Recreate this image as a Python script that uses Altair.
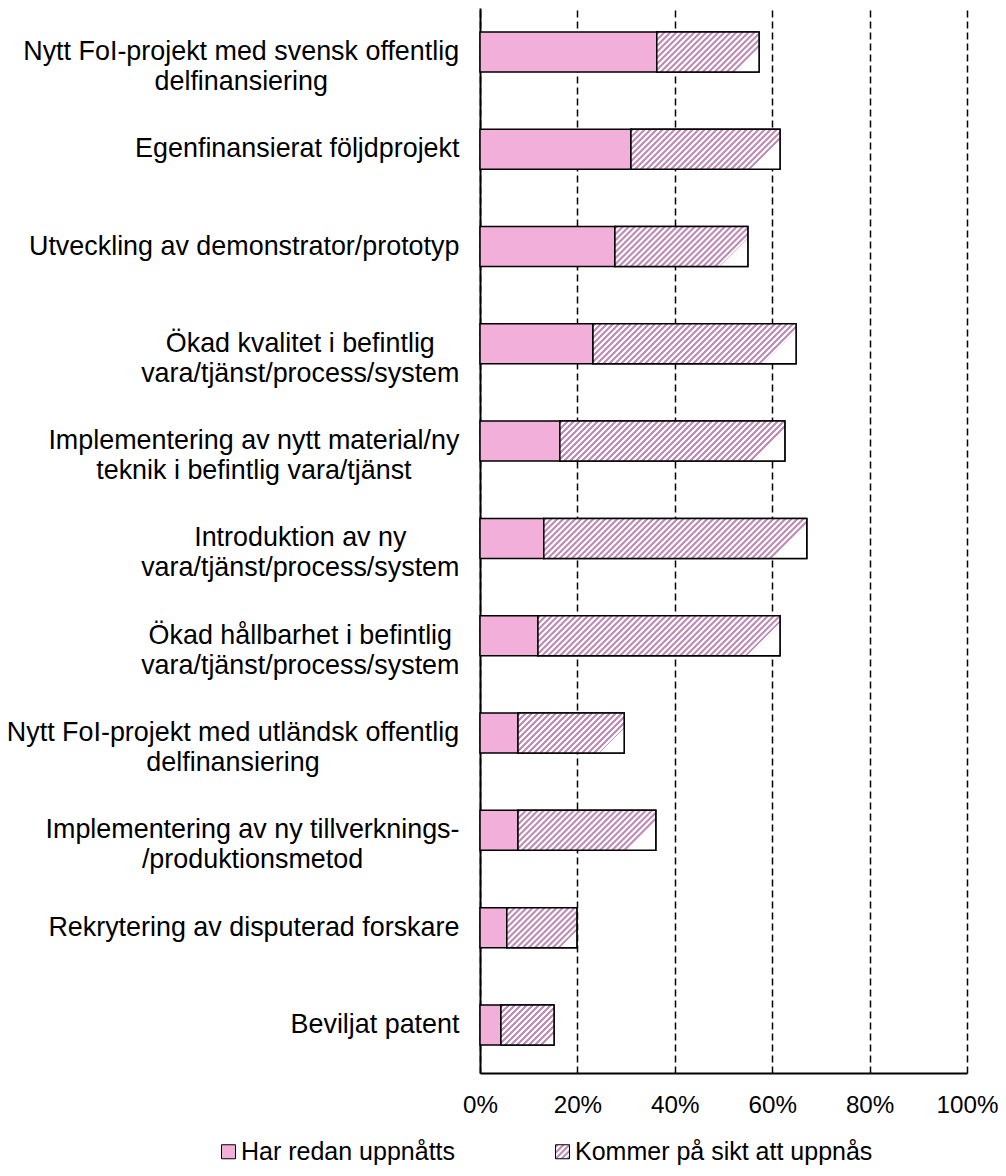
import json
import altair as alt
import pandas as pd

categories = [
    "Nytt FoI-projekt med svensk offentlig|delfinansiering",
    "Egenfinansierat följdprojekt",
    "Utveckling av demonstrator/prototyp",
    "Ökad kvalitet i befintlig|vara/tjänst/process/system",
    "Implementering av nytt material/ny|teknik i befintlig vara/tjänst",
    "Introduktion av ny|vara/tjänst/process/system",
    "Ökad hållbarhet i befintlig|vara/tjänst/process/system",
    "Nytt FoI-projekt med utländsk offentlig|delfinansiering",
    "Implementering av ny tillverknings-|/produktionsmetod",
    "Rekrytering av disputerad forskare",
    "Beviljat patent",
]
already = [36.3, 31.0, 27.7, 23.2, 16.4, 13.1, 11.9, 7.8, 7.8, 5.5, 4.3]
future = [21.0, 30.6, 27.3, 41.7, 46.2, 54.0, 49.7, 21.8, 28.3, 14.4, 10.9]
series_names = ["Har redan uppnåtts", "Kommer på sikt att uppnås"]
tick_values = [0, 20, 40, 60, 80, 100]

# ---- styling ----
FONT = "Liberation Sans"
PLOT_W, PLOT_H = 487, 1065
PAD_INNER = 0.589
PAD_OUTER = 0.267
BAND_ALIGN = 0.46
PINK = "#F2AFDA"
HATCH = "#BF8AB5"
LABEL_FS = 26.9

# Arial/Liberation Sans advance widths (1/1000 em) for measuring label blocks
CW = {
    "a": 556, "b": 556, "c": 500, "d": 556, "e": 556, "f": 278, "g": 556, "h": 556,
    "i": 222, "j": 222, "k": 500, "l": 222, "m": 833, "n": 556, "o": 556, "p": 556,
    "q": 556, "r": 333, "s": 500, "t": 278, "u": 556, "v": 500, "w": 722, "x": 500,
    "y": 500, "z": 500, "ä": 556, "ö": 556, "å": 556, "N": 722, "F": 611, "I": 278,
    "E": 667, "U": 722, "Ö": 778, "R": 722, "B": 667, " ": 278, "-": 333, "/": 278,
}


def text_w(s, fs):
    return sum(CW.get(ch, 556) for ch in s) * fs / 1000.0


def hatch_gradient(W, H, period=6.0, duty=0.5, ramp=1.1, dark=HATCH, light="#FFFFFF"):
    T = W + H * H / W
    stops = []
    n = int(T / period) + 2
    for i in range(n):
        p0 = i * period
        pts = [
            (p0, light),
            (p0 + ramp, dark),
            (p0 + duty * period, dark),
            (p0 + duty * period + ramp, light),
        ]
        for pos, col in pts:
            stops.append({"offset": round(min(max(pos / T, 0.0), 1.0), 5), "color": col})
    return {"gradient": "linear", "x1": 0, "y1": 0, "x2": 1, "y2": round(H / W, 5), "stops": stops}


rows = []
for c, a, f in zip(categories, already, future):
    rows.append({"cat": c, "series": series_names[0], "x0": 0.0, "x1": a})
    rows.append({"cat": c, "series": series_names[1], "x0": a, "x1": a + f})
df = pd.DataFrame(rows)

# label padding so each multi-line label block is right-aligned, lines centred
conds = []
for c in categories:
    w = max(text_w(line, LABEL_FS) for line in c.split("|"))
    conds.append({"test": "datum.value === " + json.dumps(c), "value": round(21 + w / 2, 1)})

yaxis = alt.Axis(
    title=None, domain=True, domainColor="black", domainWidth=2, ticks=False, tickSize=0,
    grid=False, labelExpr="split(datum.label, '|')", labelFont=FONT, labelFontSize=LABEL_FS,
    labelColor="black", labelAlign="center", labelBaseline="middle", labelLineHeight=30,
    labelLimit=0, labelOverlap=False, labelPadding={"condition": conds, "value": 21},
)
xaxis = alt.Axis(
    title=None, values=tick_values, labelExpr="datum.value + '%'", grid=True, gridColor="black",
    gridDash=[7, 4], gridWidth=1.5, gridOpacity=1, domain=True, domainColor="black", domainWidth=2,
    ticks=False, tickSize=0, labelFont=FONT, labelFontSize=24.2, labelColor="black", labelPadding=20,
    labelFlush=False, labelOverlap=False, labelAlign="center", labelBound=False,
)

X = alt.X("x0:Q", scale=alt.Scale(domain=[0, 100], nice=False, zero=True), axis=xaxis)
X2 = alt.X2("x1:Q")
Y = alt.Y(
    "cat:N",
    scale=alt.Scale(domain=categories, paddingInner=PAD_INNER, paddingOuter=PAD_OUTER, align=BAND_ALIGN),
    axis=yaxis,
)

legend_grad = hatch_gradient(14, 14, period=6.0)
legend_range = [PINK, {"expr": json.dumps(legend_grad)}]

base = alt.Chart(df).mark_bar(stroke="black", strokeWidth=1.5).encode(
    x=X, x2=X2, y=Y,
    color=alt.Color(
        "series:N",
        scale=alt.Scale(domain=series_names, range=legend_range),
        legend=alt.Legend(
            orient="none", legendX=-264, legendY=1131, direction="horizontal", title=None,
            padding=0, symbolType="square", symbolSize=196, symbolStrokeColor="black",
            symbolStrokeWidth=1, labelFont=FONT, labelFontSize=25, labelColor="black",
            columnPadding=94, labelOffset=0, labelLimit=0,
        ),
    ),
)

step = PLOT_H / (len(categories) - PAD_INNER + 2 * PAD_OUTER)
bar_h = step * (1 - PAD_INNER)
layers = [base]
for c, f in zip(categories, future):
    W = f * PLOT_W / 100.0
    layers.append(
        alt.Chart(df)
        .transform_filter(
            "datum.cat === " + json.dumps(c) + " && datum.series === " + json.dumps(series_names[1])
        )
        .mark_bar(fill=hatch_gradient(W, bar_h), stroke="black", strokeWidth=1.5)
        .encode(x=X, x2=X2, y=Y)
    )

chart = (
    alt.layer(*layers)
    .properties(
        width=PLOT_W, height=PLOT_H,
        autosize=alt.AutoSizeParams(type="none"),
        padding={"left": 472, "top": 0, "right": 31, "bottom": 92},
    )
    .configure_view(strokeWidth=0)
)

chart.save("out.html", embed_options={"renderer": "svg", "actions": False})
